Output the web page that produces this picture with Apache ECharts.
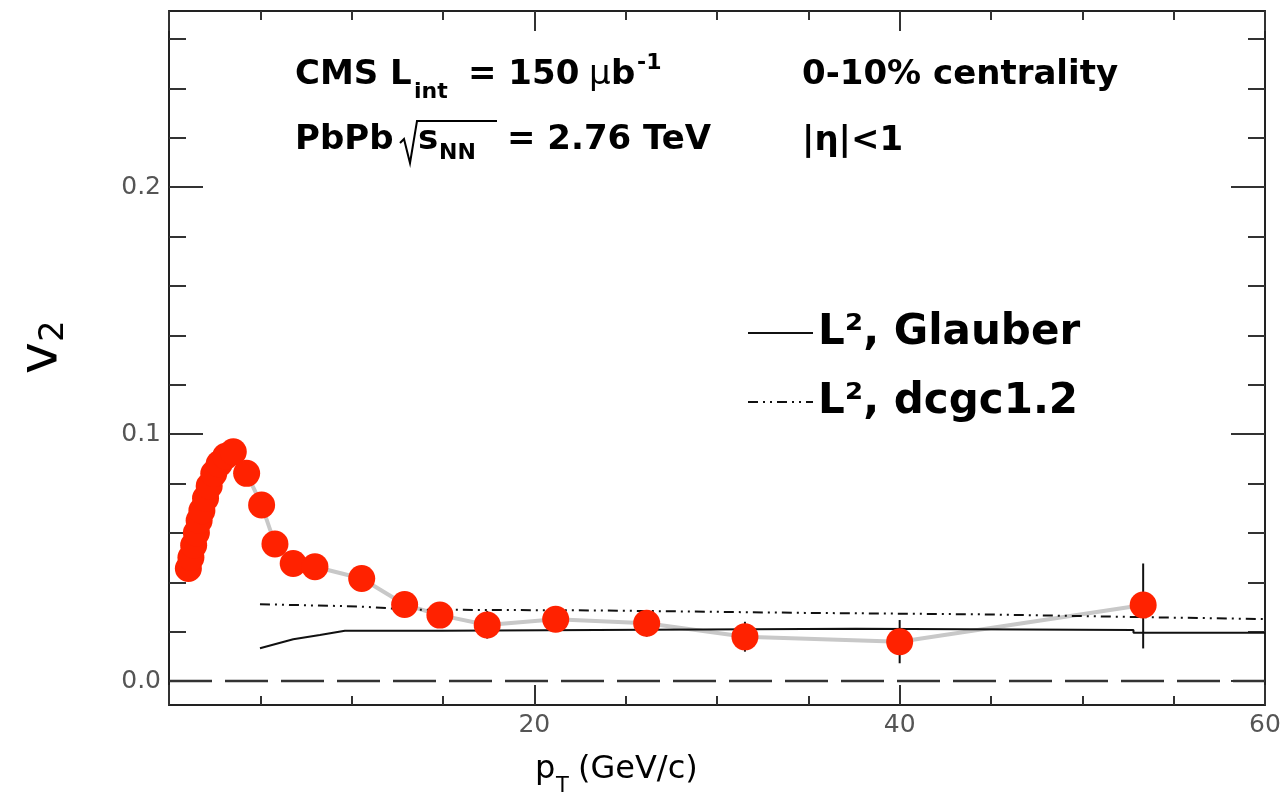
<!DOCTYPE html>
<html>
<head>
<meta charset="utf-8">
<script src="https://cdn.jsdelivr.net/npm/echarts@6/dist/echarts.min.js"></script>
<style>
html,body{margin:0;padding:0;background:#fff;}
#chart1{width:1284px;height:796px;}
</style>
</head>
<body>
<div id="chart1"></div>
<script>
// measured points (pT, v2)
var ptData = [1.06,1.2,1.35,1.5,1.65,1.8,2.0,2.2,2.45,2.75,3.1,3.52,4.25,5.07,5.80,6.80,7.99,10.55,12.9,14.83,17.42,21.17,26.15,31.53,40.0,53.33];
var v2Data = [0.0456,0.050,0.055,0.060,0.065,0.069,0.074,0.079,0.084,0.088,0.091,0.0928,0.0841,0.0713,0.0555,0.0476,0.0463,0.0415,0.031,0.0267,0.0227,0.025,0.0234,0.0179,0.0159,0.0308];

// stat error bars
var errPt   = [14.83,17.42,21.17,26.15,31.53,40.0,53.33];
var errLow  = [0.0232,0.0172,0.020,0.018,0.0119,0.0072,0.0132];
var errHigh = [0.0302,0.0284,0.030,0.0287,0.024,0.0247,0.0476];

// theory curves
var glauberPt = [4.98,6.8,8.26,9.63,14.9,14.9,37.6,37.6,52.8,52.8,60];
var glauberV2 = [0.0133,0.0169,0.0186,0.0204,0.0204,0.0212,0.0212,0.0207,0.0207,0.0196,0.0196];
var dcgcPt = [4.98,10.4,13.3,23.3,34.8,44.6,52.2,60];
var dcgcV2 = [0.0311,0.0302,0.0289,0.0286,0.0276,0.027,0.026,0.0251];

var yMajor = [0,0.1,0.2];
var yMinor = [0.02,0.04,0.06,0.08,0.12,0.14,0.16,0.18,0.22,0.24,0.26];
var xTickStep = 20;
var yMin = -0.0097, yMax = 0.2713;

var FONT = "'DejaVu Sans','Liberation Sans',sans-serif";

function pairs(xs, ys){
    var out=[];
    for(var i=0;i<xs.length;i++){ out.push([xs[i],ys[i]]); }
    return out;
}
function txt(x,y,s,size,bold){
    return {type:'text', x:x, y:y, silent:true,
        style:{text:s, fontSize:size, fontWeight:bold?'bold':'normal', fontFamily:FONT,
            fill:'#000', align:'left', verticalAlign:'middle'}};
}

var tickStyle = {color:'#333', width:2};
var frameStyle = {color:'#222', width:2};
var labelStyle = {fontSize:25, color:'#555', fontFamily:FONT, margin:8};

var myChart = echarts.init(document.getElementById('chart1'));
var option1 = {
    animation:false,
    backgroundColor:'#fff',
    grid:{left:169, right:19, top:11, bottom:91},
    legend:{
        orient:'vertical',
        left:742, top:304,
        itemWidth:65, itemHeight:14, itemGap:21,
        itemStyle:{opacity:0},
        data:['L², Glauber','L², dcgc1.2'],
        textStyle:{fontSize:42, fontWeight:'bold', fontFamily:FONT, color:'#000', lineHeight:48}
    },
    xAxis:[{
        type:'value', position:'bottom', min:0, max:60, interval:xTickStep,
        axisLine:{show:true, onZero:false, lineStyle:frameStyle},
        axisTick:{inside:true, length:20, lineStyle:tickStyle},
        minorTick:{show:true, splitNumber:4, length:9, lineStyle:tickStyle},
        axisLabel:Object.assign({showMinLabel:false}, labelStyle),
        splitLine:{show:false}, minorSplitLine:{show:false}
    },{
        type:'value', position:'top', min:0, max:60, interval:xTickStep,
        axisLine:{show:true, onZero:false, lineStyle:frameStyle},
        axisTick:{inside:true, length:20, lineStyle:tickStyle},
        minorTick:{show:true, splitNumber:4, length:9, lineStyle:tickStyle},
        axisLabel:{show:false},
        splitLine:{show:false}, minorSplitLine:{show:false}
    }],
    yAxis:[{
        type:'value', position:'left', min:yMin, max:yMax,
        axisLine:{show:true, onZero:false, lineStyle:frameStyle},
        axisTick:{inside:true, length:34, customValues:yMajor, lineStyle:tickStyle},
        axisLabel:Object.assign({customValues:yMajor, formatter:function(v){return v.toFixed(1);}}, labelStyle),
        splitLine:{show:false}
    },{
        type:'value', position:'left', min:yMin, max:yMax,
        axisLine:{show:false, onZero:false},
        axisTick:{inside:true, length:17, customValues:yMinor, lineStyle:tickStyle},
        axisLabel:{show:false}, splitLine:{show:false}
    },{
        type:'value', position:'right', min:yMin, max:yMax,
        axisLine:{show:true, onZero:false, lineStyle:frameStyle},
        axisTick:{inside:true, length:34, customValues:yMajor, lineStyle:tickStyle},
        axisLabel:{show:false}, splitLine:{show:false}
    },{
        type:'value', position:'right', min:yMin, max:yMax,
        axisLine:{show:false, onZero:false},
        axisTick:{inside:true, length:17, customValues:yMinor, lineStyle:tickStyle},
        axisLabel:{show:false}, splitLine:{show:false}
    }],
    series:[{
        name:'zero', type:'line', silent:true, symbol:'none',
        data:[[0,0],[60,0]],
        lineStyle:{color:'#333', width:2.5, type:[43,13]}, z:1
    },{
        name:'band', type:'line', silent:true, symbol:'none',
        data:pairs(ptData,v2Data),
        lineStyle:{color:'#c8c8c8', width:4}, z:2
    },{
        name:'L², Glauber', type:'line', silent:true, symbol:'none',
        data:pairs(glauberPt,glauberV2),
        itemStyle:{color:'#111'},
        lineStyle:{color:'#111', width:2}, z:3
    },{
        name:'L², dcgc1.2', type:'line', silent:true, symbol:'none',
        data:pairs(dcgcPt,dcgcV2),
        itemStyle:{color:'#111'},
        lineStyle:{color:'#111', width:2, type:[10,5,2,5,2,5]}, z:3
    },{
        name:'err', type:'custom', silent:true, z:4,
        data:errPt.map(function(p,i){return [p,errLow[i],errHigh[i]];}),
        renderItem:function(params, api){
            var lo = api.coord([api.value(0), api.value(1)]);
            var hi = api.coord([api.value(0), api.value(2)]);
            return {type:'line', shape:{x1:lo[0],y1:lo[1],x2:hi[0],y2:hi[1]},
                style:{stroke:'#111', lineWidth:2}};
        }
    },{
        name:'CMS', type:'scatter', silent:true, z:5,
        symbol:'circle', symbolSize:27,
        data:pairs(ptData,v2Data),
        itemStyle:{color:'#ff2200', opacity:1}
    }],
    graphic:[
        txt(295,75,'CMS L',34,true),
        txt(414,92,'int',22,true),
        txt(468,75,'= 150',34,true),
        txt(589,75,'μ',34,false),
        txt(611,75,'b',34,true),
        txt(637,63,'-1',22,true),
        txt(295,140,'PbPb',34,true),
        {type:'polyline', silent:true,
            shape:{points:[[400,143],[404,139],[410,163],[417,121],[497,121]]},
            style:{stroke:'#000', lineWidth:2, fill:null}},
        txt(418,140,'s',34,true),
        txt(439,153,'NN',22,true),
        txt(507,140,'= 2.76 TeV',34,true),
        txt(802,75,'0-10% centrality',34,true),
        txt(802,141,'|η|<1',34,true),
        txt(535,770,'p',32,false),
        txt(556,787,'T',21,false),
        txt(578,770,'(GeV/c)',32,false),
        {type:'group', x:42, y:374, rotation:Math.PI/2, silent:true,
            children:[
                {type:'text', x:0, y:0, style:{text:'v', fontSize:54, fontFamily:FONT, fill:'#000', align:'left', verticalAlign:'middle'}},
                {type:'text', x:32, y:12, style:{text:'2', fontSize:34, fontFamily:FONT, fill:'#000', align:'left', verticalAlign:'middle'}}
            ]}
    ]
};
myChart.setOption(option1);
</script>
</body>
</html>
